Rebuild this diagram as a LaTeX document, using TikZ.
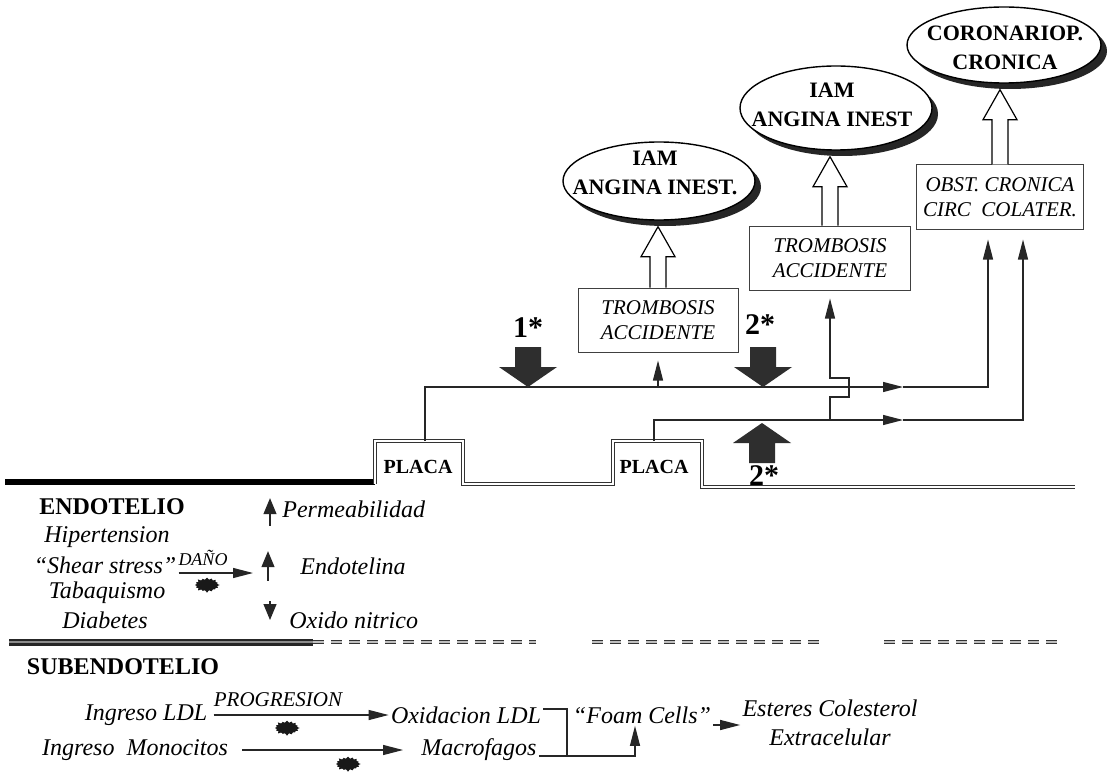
\documentclass[tikz,border=0pt]{standalone}
\usepackage{fontspec}
\setmainfont{Liberation Serif}
\usetikzlibrary{arrows.meta, positioning, calc, shapes.geometric, shapes.symbols, shadows}

% open block arrow from a box (#1) up to an outcome ellipse (#2)
\newcommand{\hollowarrow}[2]{%
  \draw[line width=0.6pt, fill=white]
    ($(#1.north)+(-8,0)$) -- ($(#1.north |- #2.south)+(-8,36)$)
    -- ($(#1.north |- #2.south)+(-17,36)$) -- ($(#1.north |- #2.south)+(0,6)$)
    -- ($(#1.north |- #2.south)+(17,36)$) -- ($(#1.north |- #2.south)+(8,36)$)
    -- ($(#1.north)+(8,0)$);}

\begin{document}
\begin{tikzpicture}[x=0.5pt, y=-0.5pt,
  lab/.style={font=\fontsize{12}{14.5}\selectfont\itshape, inner sep=1pt},
  bolde/.style={font=\fontsize{12}{14}\selectfont\bfseries, inner sep=1pt},
  smalllab/.style={font=\fontsize{10.5}{13}\selectfont\itshape, inner sep=1pt},
  placa/.style={font=\fontsize{10}{12}\selectfont\bfseries, inner sep=1pt},
  stage/.style={draw=black!75, line width=0.5pt, fill=white, align=center,
    font=\fontsize{10.5}{12.5}\selectfont\itshape, minimum height=32pt},
  outcome/.style={ellipse, draw, line width=0.7pt, fill=white,
    drop shadow={shadow xshift=3pt, shadow yshift=-3pt, opacity=1, fill=black!85}},
  outtext/.style={align=center, font=\fontsize{11}{14.5}\selectfont\bfseries, inner sep=0pt},
  astlabel/.style={font=\fontsize{15}{15}\selectfont\bfseries, inner sep=0pt},
  conn/.style={line width=0.6pt, draw=black!85},
  arr/.style={-{Triangle[length=10pt,width=5pt]}},
  sarr/.style={-{Triangle[length=8pt,width=6.5pt]}},
  blob/.style={starburst, starburst points=16, starburst point height=1.3pt,
    fill=black!90, draw=none, minimum width=13pt, minimum height=8pt, inner sep=0pt},
  wall/.style={draw=black!80, line width=0.7pt, double=white, double distance=0.9pt},
  intima/.style={draw=black!80, line width=0.8pt, double=black!25, double distance=0.8pt,
    dash pattern=on 5.5pt off 3.5pt},
  bigdown/.pic={\fill[black!82] (-13,-40) -- (-13,-20) -- (-29,-20) -- (0,0)
    -- (29,-20) -- (13,-20) -- (13,-40) -- cycle;}
]
  \path[fill=white] (0,0) rectangle (1112,765);

  % Outcomes
  \node[outcome, minimum width=96pt, minimum height=39pt] (e1) at (659,181) {};
  \node[outtext] (e1t) at (655,173) {IAM\\ANGINA INEST.};
  \node[outcome, minimum width=96pt, minimum height=42pt] (e2) at (836,108) {};
  \node[outtext] (e2t) at (832,105) {IAM\\ANGINA INEST};
  \node[outcome, minimum width=97pt, minimum height=38pt] (e3) at (1004,45) {};
  \node[outtext] (e3t) at (1005,48) {CORONARIOP.\\CRONICA};

  % Events
  \node[stage, minimum width=80pt] (tr1) at (658,320) {TROMBOSIS\\ACCIDENTE};
  \node[stage, minimum width=80.5pt] (tr2) at (830,258) {TROMBOSIS\\ACCIDENTE};
  \node[stage, minimum width=83.5pt] (obst) at (1000,197) {OBST. CRONICA\\CIRC\ \ COLATER.};

  \hollowarrow{tr1}{e1}
  \hollowarrow{tr2}{e2}
  \hollowarrow{obst}{e3}

  % Vessel wall with two plaques
  \draw[line width=3pt] (5,482) -- (375,482);
  \draw[wall] (375,484) -- (375,441) -- (463,441) -- (463,484) -- (613,484)
    -- (613,441) -- (702,441) -- (702,487) -- (1075,487);
  \node[placa] (pl1) at (418,467) {PLACA};
  \node[placa] (pl2) at (654,467) {PLACA};

  % Internal layer
  \draw[draw=black!85, line width=1.3pt, double=black!45, double distance=0.9pt] (9,642) -- (313,642);
  \draw[intima] (313,642) -- (536,642);
  \draw[intima] (592,642) -- (819,642);
  \draw[intima] (884,642) -- (1060,642);

  % Plaque evolution
  \coordinate (p1) at (425,441);
  \coordinate (p2) at (654,441);
  \coordinate (m1) at (903,387);
  \coordinate (m2) at (903,420);
  \draw[conn,arr] (p1) |- (m1);
  \draw[conn,arr] (m1) -| ([xshift=-6pt,yshift=-5pt]obst.south);
  \draw[conn,arr] (tr1.south |- m1) -- ([yshift=-4pt]tr1.south);
  \draw[conn,arr] (p2) |- (m2);
  \draw[conn,arr] (m2) -| ([xshift=11.5pt,yshift=-5pt]obst.south);
  \draw[conn,arr] (tr2.south |- m2) -- ++(0,-23) -- ++(19,0) -- ++(0,-19) -- ++(-19,0)
    -- ([yshift=-4pt]tr2.south);

  % Triggers
  \pic at (528,387) {bigdown};
  \node[astlabel] (s1) at (528,328) {1*};
  \pic at (763,387) {bigdown};
  \node[astlabel] (s2) at (760,325) {2*};
  \pic[rotate=180] at (762,423) {bigdown};
  \node[astlabel] (s3) at (764,476) {2*};

  % Endothelium
  \node[bolde] (endt) at (112,507) {ENDOTELIO};
  \node[lab] (hip) at (107,537) {Hipertension};
  \node[lab] (shear) at (105,565) {“Shear stress”};
  \node[smalllab, font=\fontsize{9}{10}\selectfont\itshape] (dano) at (203,558) {DAÑO};
  \node[lab] (tab) at (107,593) {Tabaquismo};
  \node[lab] (dia) at (105,620) {Diabetes};
  \node[lab, anchor=west] (perm) at (280,509) {Permeabilidad};
  \node[lab, anchor=west] (endl) at (298,566) {Endotelina};
  \node[lab, anchor=west] (oxno) at (287,620) {Oxido nitrico};
  \coordinate (hub) at (253,573);
  \draw[conn,arr] (shear.east |- hub) -- (hub);
  \node[blob] (b1) at (207,585) {};
  \draw[conn,sarr] ([xshift=-5pt,yshift=-3pt]perm.south west) -- ([xshift=-5pt]perm.north west);
  \draw[conn,sarr] ([xshift=-15pt,yshift=-2pt]endl.south west) -- ([xshift=-15pt,yshift=2pt]endl.north west);
  \draw[conn,sarr] ([xshift=-8.5pt,yshift=4pt]oxno.north west) -- ([xshift=-8.5pt]oxno.west);

  % Subendothelium
  \node[bolde] (subt) at (123,667) {SUBENDOTELIO};
  \node[smalllab] (prog) at (278,700) {PROGRESION};
  \node[lab] (ldl) at (146,715) {Ingreso LDL};
  \node[lab] (oxldl) at (466,715) {Oxidacion LDL};
  \node[lab] (mono) at (135,750) {Ingreso\ \ Monocitos};
  \node[lab] (mac) at (479,750) {Macrofagos};
  \node[lab] (foam) at (642,715) {“Foam Cells”};
  \node[lab, align=center] (est) at (830,723) {Esteres Colesterol\\Extracelular};
  \draw[conn,arr] ([xshift=2pt]ldl.east) -- (oxldl.west);
  \node[blob] (b2) at (287,728) {};
  \draw[conn,arr] ([xshift=6pt]mono.east) -- ([xshift=-8pt]mac.west);
  \node[blob] (b3) at (348,764) {};
  \coordinate (jn) at (567,757);
  \draw[conn] ([yshift=3pt]oxldl.east) -| (jn);
  \draw[conn,arr] (mac.base east) -| ([xshift=-3.5pt]foam.south);
  \draw[conn,arr] ([yshift=-5pt]foam.east) -- ([yshift=-5pt]foam.east -| est.west);
\end{tikzpicture}
\end{document}
